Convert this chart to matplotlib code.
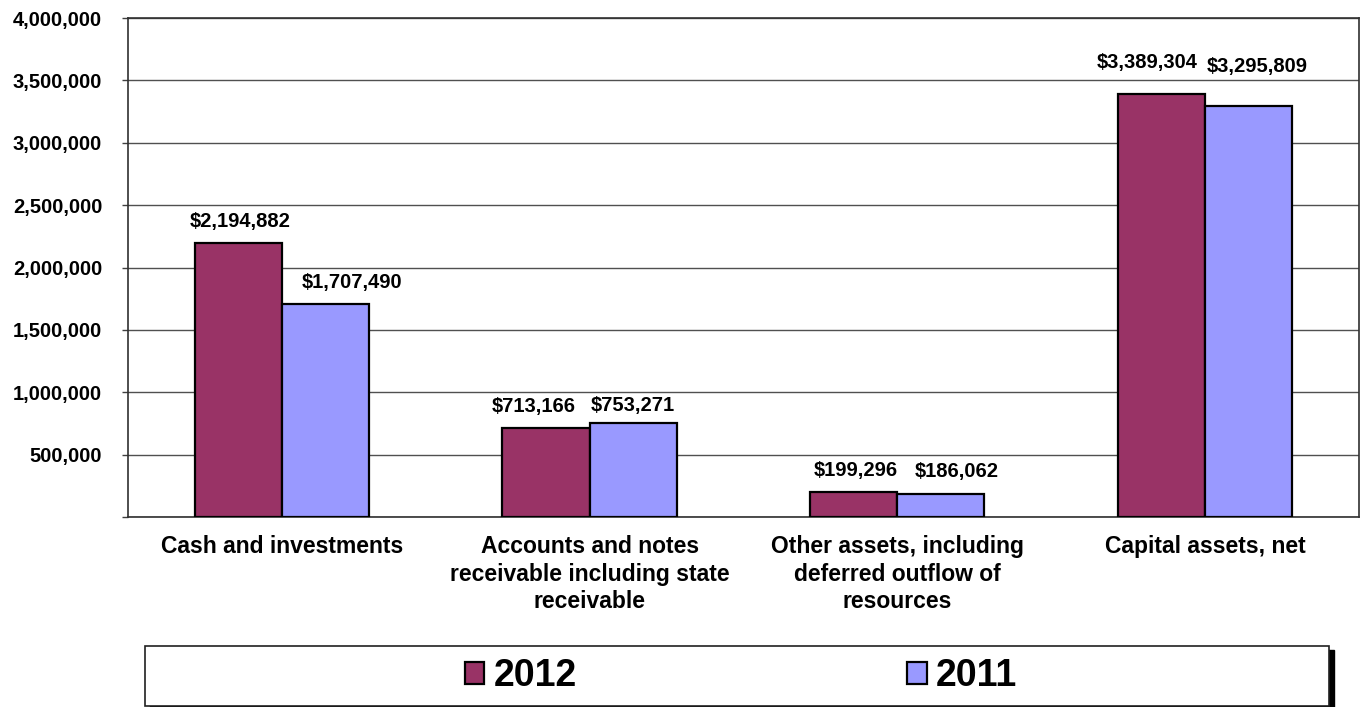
import numpy as np
import matplotlib
matplotlib.use("Agg")
import matplotlib.pyplot as plt
from matplotlib.patches import Rectangle, Patch
from matplotlib.ticker import FuncFormatter

plt.rcParams['font.family'] = ['Liberation Sans', 'DejaVu Sans']
plt.rcParams['font.weight'] = 'bold'

# data
categories = ["Cash and investments",
              "Accounts and notes\nreceivable including state\nreceivable",
              "Other assets, including\ndeferred outflow of\nresources",
              "Capital assets, net"]
values_2012 = [2194882, 713166, 199296, 3389304]
values_2011 = [1707490, 753271, 186062, 3295809]
series_names = ["2012", "2011"]
y_ticks = [0, 500000, 1000000, 1500000, 2000000, 2500000, 3000000, 3500000, 4000000]

# label nudges in pixels (Excel moved some labels to avoid overlap)
nudge_2012 = [(2, 22), (-12, 22), (2, 22), (-14, 32)]
nudge_2011 = [(27, 22), (0, 18), (16, 22), (9, 39)]

color_2012 = '#993366'
color_2011 = '#9999FF'

fig = plt.figure(figsize=(13.64, 7.07), dpi=100)
ax = fig.add_axes([0.0938, 0.2687, 0.9025, 0.7058])

x = np.arange(len(categories)) + 0.5
w = 0.283
b1 = ax.bar(x - w / 2, values_2012, w, color=color_2012, edgecolor='black', linewidth=1.6, zorder=3)
b2 = ax.bar(x + w / 2, values_2011, w, color=color_2011, edgecolor='black', linewidth=1.6, zorder=3)

px = 72 / 100  # pixels -> points
for bars, vals, nudges in [(b1, values_2012, nudge_2012), (b2, values_2011, nudge_2011)]:
    for rect, v, (dx, dy) in zip(bars, vals, nudges):
        ax.annotate(f"${v:,.0f}", (rect.get_x() + rect.get_width() / 2, v),
                    xytext=(dx * px, dy * px), textcoords='offset points',
                    ha='center', va='center', fontsize=14.5, fontweight='bold')

ax.set_xlim(0, len(categories))
ax.set_ylim(0, 4000000)
ax.set_yticks(y_ticks)
ax.yaxis.set_major_formatter(FuncFormatter(lambda v, p: "" if v == 0 else f"{v:,.0f}"))
ax.set_xticks(x)
ax.set_xticklabels(categories, fontsize=16.5, fontweight='bold', linespacing=1.25)
ax.tick_params(axis='x', length=0, pad=13)
ax.tick_params(axis='y', length=4.5, width=1, pad=14, labelsize=14.5, color='#404040')
for lab in ax.get_yticklabels():
    lab.set_fontweight('bold')
ax.grid(axis='y', color='#505050', linewidth=1, zorder=0)
for s in ax.spines.values():
    s.set_color('#303030')
    s.set_linewidth(1.2)

# legend box with shadow
bx, by, bw, bh = 145 / 1364, 1 / 707, (1329 - 145) / 1364, 60 / 707
fig.patches.append(Rectangle((bx + 5 / 1364, by - 4 / 707), bw, bh, transform=fig.transFigure,
                             facecolor='black', edgecolor='black', zorder=0))
fig.patches.append(Rectangle((bx, by), bw, bh, transform=fig.transFigure,
                             facecolor='white', edgecolor='#202020', linewidth=1.2, zorder=1))
handles = [Patch(facecolor=color_2012, edgecolor='black', linewidth=1.6),
           Patch(facecolor=color_2011, edgecolor='black', linewidth=1.6)]
fig.legend(handles, series_names, loc='center', bbox_to_anchor=(741 / 1364, 1 - 676 / 707),
           ncol=2, frameon=False, prop={'size': 27, 'weight': 'bold'},
           handlelength=0.52, handleheight=0.52, handletextpad=0.25, columnspacing=8.8)

fig.savefig('out.png', dpi=100)
